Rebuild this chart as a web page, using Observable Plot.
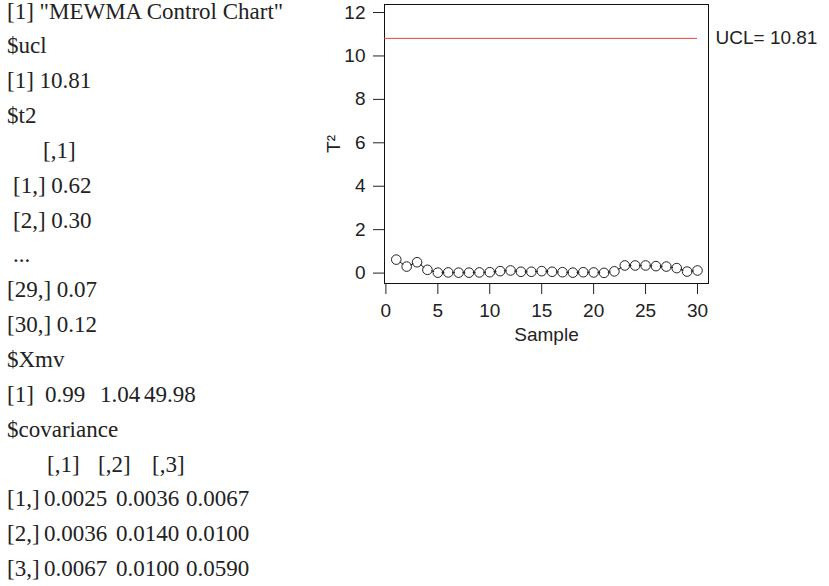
<!DOCTYPE html>
<html>
<head>
<meta charset="utf-8">
<script src="https://cdn.jsdelivr.net/npm/d3@7"></script>
<script src="https://cdn.jsdelivr.net/npm/@observablehq/plot@0.6"></script>
<style>
  html, body { margin: 0; padding: 0; background: #fff; }
  #page { position: relative; width: 829px; height: 586px; overflow: hidden; background: #fff; }
  #console { position: absolute; left: 0; top: 0; width: 330px; height: 586px;
    font-family: "Liberation Serif", "Times New Roman", serif; font-size: 23px; color: #222; }
  #console span { position: absolute; white-space: pre; line-height: 23px; }
  #chart { position: absolute; left: 310px; top: 0; }
</style>
</head>
<body>
<div id="page">
  <div id="console"></div>
  <div id="chart"></div>
</div>
<script>
// ---- data ----
const title = "MEWMA Control Chart";
const ucl = 10.81;
const sample = d3.range(1, 31);
const t2 = [0.62, 0.30, 0.50, 0.15, 0.02, 0.03, 0.02, 0.02, 0.03, 0.04,
            0.09, 0.12, 0.06, 0.06, 0.09, 0.06, 0.04, 0.02, 0.04, 0.03,
            0.01, 0.08, 0.35, 0.35, 0.35, 0.32, 0.30, 0.23, 0.07, 0.12];
const xmv = [0.99, 1.04, 49.98];
const covRow1 = [0.0025, 0.0036, 0.0067];
const covRow2 = [0.0036, 0.0140, 0.0100];
const covRow3 = [0.0067, 0.0100, 0.0590];
const xTicks = [0, 5, 10, 15, 20, 25, 30];
const yTicks = [0, 2, 4, 6, 8, 10, 12];
const xLabel = "Sample";
const yLabel = "T\u00B2";

// ---- console-like text panel ----
const covRows = [covRow1, covRow2, covRow3];
const lines = [
  [[7, `[1] "${title}"`]],
  [[7, "$ucl"]],
  [[7, `[1] ${ucl.toFixed(2)}`]],
  [[7, "$t2"]],
  [[43, "[,1]"]],
  [[13, `[1,] ${t2[0].toFixed(2)}`]],
  [[13, `[2,] ${t2[1].toFixed(2)}`]],
  [[13, "..."]],
  [[7, `[29,] ${t2[28].toFixed(2)}`]],
  [[7, `[30,] ${t2[29].toFixed(2)}`]],
  [[7, "$Xmv"]],
  [[7, "[1]"], [45, xmv[0].toFixed(2)], [100, xmv[1].toFixed(2)], [144, xmv[2].toFixed(2)]],
  [[7, "$covariance"]],
  [[47, "[,1]"], [98, "[,2]"], [152, "[,3]"]],
  ...covRows.map((r, i) => [[7, `[${i + 1},]`], [44, r[0].toFixed(4)], [116, r[1].toFixed(4)], [186, r[2].toFixed(4)]])
];
const con = document.getElementById("console");
lines.forEach((parts, i) => {
  const cy = 11.5 + i * 34.85;
  parts.forEach(([x, t]) => {
    const s = document.createElement("span");
    s.textContent = t;
    s.style.left = x + "px";
    s.style.top = (cy - 12) + "px";
    con.appendChild(s);
  });
});

// ---- chart ----
const data = sample.map((s, i) => ({sample: s, t2: t2[i]}));
const chart = Plot.plot({
  width: 519,
  height: 345,
  marginLeft: 74,
  marginRight: 121,
  marginTop: 4,
  marginBottom: 62,
  style: {fontFamily: "'Liberation Sans', Arial, sans-serif", fontSize: "19px", color: "#222", background: "transparent"},
  x: {domain: [-0.135, 31.06]},
  y: {domain: [-0.48, 12.37]},
  marks: [
    Plot.frame({stroke: "#111", strokeWidth: 1}),
    Plot.axisX({ticks: xTicks, tickSize: 11, tickPadding: 9, tickFormat: d => String(d), fontSize: 19,
      label: xLabel, labelAnchor: "center", labelArrow: "none", labelOffset: 57, stroke: "#222"}),
    Plot.axisY({ticks: yTicks, tickSize: 11, tickPadding: 8, tickFormat: d => String(d), fontSize: 19,
      label: yLabel, labelAnchor: "center", labelArrow: "none", labelOffset: 58, stroke: "#222"}),
    Plot.ruleY([ucl], {x1: -0.135, x2: 30, stroke: "#e8443a", strokeWidth: 1}),
    Plot.text([ucl], {y: d => d, frameAnchor: "right", dx: 7, textAnchor: "start",
      text: d => `UCL= ${d.toFixed(2)}`, fill: "#222", fontSize: 19}),
    Plot.line(data, {x: "sample", y: "t2", stroke: "#222", strokeWidth: 1}),
    Plot.dot(data, {x: "sample", y: "t2", r: 3.8, fill: "white", stroke: "none"}),
    Plot.dot(data, {x: "sample", y: "t2", r: 4.8, fill: "none", stroke: "#222", strokeWidth: 1})
  ]
});
document.getElementById("chart").appendChild(chart);
</script>
</body>
</html>
